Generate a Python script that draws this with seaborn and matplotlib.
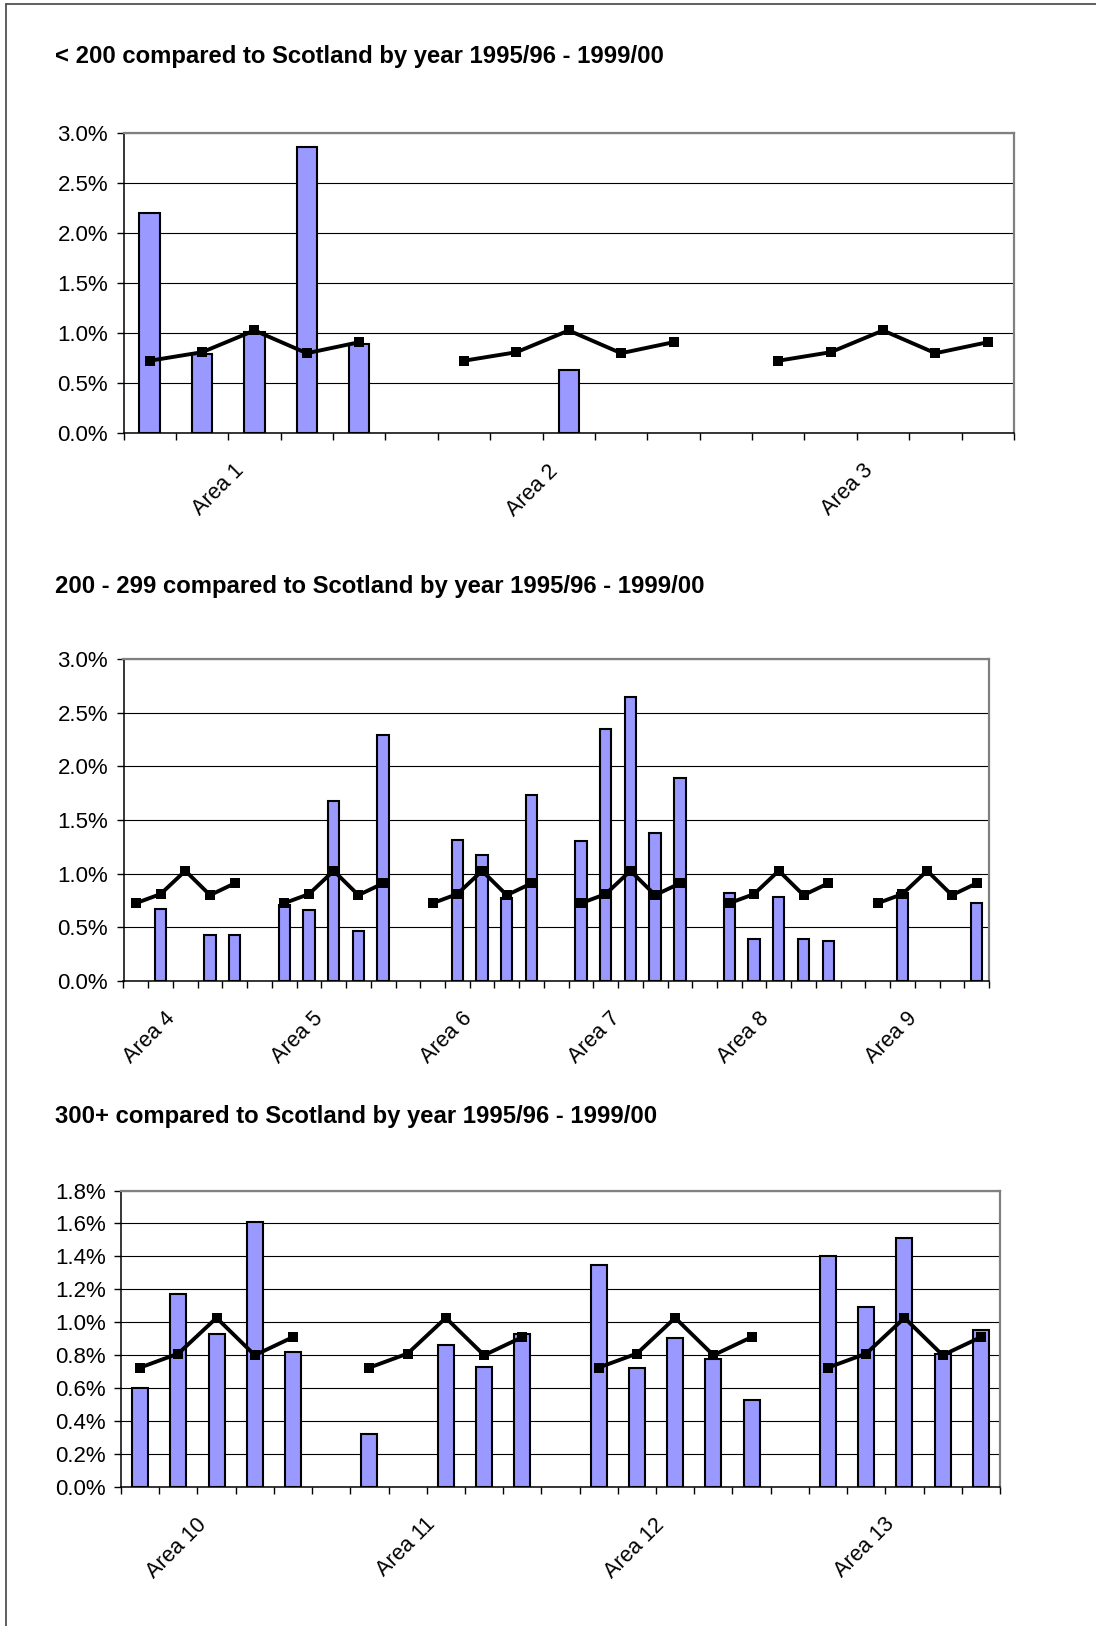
import numpy as np
import pandas as pd
import matplotlib
matplotlib.use("Agg")
import matplotlib.pyplot as plt
import matplotlib.transforms as mtransforms
from matplotlib.lines import Line2D
from matplotlib.ticker import FuncFormatter, FixedLocator, MultipleLocator
import seaborn as sns

sns.set_theme(style="white")
plt.rcParams["font.family"] = ["Liberation Sans", "DejaVu Sans"]

# ---- data (rates in %) ----
YEARS = ["1995/96", "1996/97", "1997/98", "1998/99", "1999/00"]
SCOTLAND = [0.725, 0.81, 1.027, 0.80, 0.91]

# band: < 200
LOW_AREAS = ["Area 1", "Area 2", "Area 3"]
AREA_1 = [2.20, 0.79, 1.01, 2.86, 0.89]
AREA_2 = [None, None, 0.63, None, None]
AREA_3 = [None, None, None, None, None]

# band: 200 - 299
MID_AREAS = ["Area 4", "Area 5", "Area 6", "Area 7", "Area 8", "Area 9"]
AREA_4 = [None, 0.67, None, 0.43, 0.43]
AREA_5 = [0.71, 0.66, 1.68, 0.47, 2.29]
AREA_6 = [None, 1.31, 1.17, 0.77, 1.73]
AREA_7 = [1.30, 2.35, 2.65, 1.38, 1.89]
AREA_8 = [0.82, 0.39, 0.78, 0.39, 0.37]
AREA_9 = [None, 0.82, None, None, 0.73]

# band: 300+
HIGH_AREAS = ["Area 10", "Area 11", "Area 12", "Area 13"]
AREA_10 = [0.60, 1.17, 0.93, 1.61, 0.82]
AREA_11 = [0.32, None, 0.86, 0.73, 0.93]
AREA_12 = [1.35, 0.72, 0.905, 0.78, 0.53]
AREA_13 = [1.40, 1.09, 1.51, 0.81, 0.955]

TITLES = [
    "< 200 compared to Scotland by year 1995/96 - 1999/00",
    "200 - 299 compared to Scotland by year 1995/96 - 1999/00",
    "300+ compared to Scotland by year 1995/96 - 1999/00",
]

BAR_COLOR = "#9999FF"
W, H = 1096, 1626
DPI = 100


def build_frames(area_names, area_values):
    bars, line = [], []
    for k, (name, vals) in enumerate(zip(area_names, area_values)):
        for j, year in enumerate(YEARS):
            slot = k * 6 + j
            if vals[j] is not None:
                bars.append({"slot": float(slot), "rate": vals[j], "area": name, "year": year})
            line.append({"slot": float(slot), "rate": SCOTLAND[j], "area": name, "year": year})
    return pd.DataFrame(bars), pd.DataFrame(line)


panels = [
    dict(title=TITLES[0], areas=LOW_AREAS, values=[AREA_1, AREA_2, AREA_3],
         ymax=3.0, ystep=0.5, box=(123.5, 1014, 132.7, 433.4), bw=0.39,
         title_y=57),
    dict(title=TITLES[1], areas=MID_AREAS,
         values=[AREA_4, AREA_5, AREA_6, AREA_7, AREA_8, AREA_9],
         ymax=3.0, ystep=0.5, box=(123.5, 989, 659, 981), bw=0.46,
         title_y=586),
    dict(title=TITLES[2], areas=HIGH_AREAS,
         values=[AREA_10, AREA_11, AREA_12, AREA_13],
         ymax=1.8, ystep=0.2, box=(121, 1000, 1190.5, 1487), bw=0.42,
         title_y=1116),
]

fig = plt.figure(figsize=(W / DPI, H / DPI), dpi=DPI, facecolor="white")

# outer frame (left and top edges)
fig.add_artist(Line2D([6 / W, 6 / W], [0, 1 - 4 / H], transform=fig.transFigure,
                      color="#444444", linewidth=1.2))
fig.add_artist(Line2D([6 / W, 1], [1 - 4 / H, 1 - 4 / H], transform=fig.transFigure,
                      color="#444444", linewidth=1.2))

for p in panels:
    x0, x1, ytop, ybot = p["box"]
    ax = fig.add_axes([x0 / W, 1 - ybot / H, (x1 - x0) / W, (ybot - ytop) / H])
    n_slots = len(p["areas"]) * 6 - 1
    bars, line = build_frames(p["areas"], p["values"])

    sns.barplot(data=bars, x="slot", y="rate", native_scale=True, width=p["bw"],
                color=BAR_COLOR, saturation=1, edgecolor="black", linewidth=1.5,
                errorbar=None, ax=ax, zorder=2)
    sns.lineplot(data=line, x="slot", y="rate", units="area", estimator=None,
                 color="black", linewidth=2.8, marker="s", markersize=7.5,
                 markeredgewidth=0, ax=ax, legend=False, zorder=3)

    ax.set_xlim(-0.5, n_slots - 0.5)
    ax.set_ylim(0, p["ymax"])
    ax.set_xlabel("")
    ax.set_ylabel("")

    ax.xaxis.set_major_locator(FixedLocator(np.arange(-0.5, n_slots, 1.0)))
    ax.xaxis.set_major_formatter(FuncFormatter(lambda v, pos: ""))
    ax.yaxis.set_major_locator(MultipleLocator(p["ystep"]))
    ax.yaxis.set_major_formatter(FuncFormatter(lambda v, pos: f"{v:.1f}%"))
    ax.tick_params(axis="x", which="major", direction="out", length=5, width=1,
                   color="black", bottom=True)
    ax.tick_params(axis="y", which="major", direction="out", length=5, width=1,
                   color="black", left=True, labelsize=16, pad=6, labelcolor="black")

    ax.set_axisbelow(True)
    ax.yaxis.grid(True, color="black", linewidth=0.8)
    ax.xaxis.grid(False)
    for side in ("left", "bottom"):
        ax.spines[side].set_color("black")
        ax.spines[side].set_linewidth(1.1)
    for side in ("top", "right"):
        ax.spines[side].set_color("#808080")
        ax.spines[side].set_linewidth(1.6)

    # area names under the middle year of each group
    offset = mtransforms.ScaledTranslation(-6 / DPI, -27 / DPI, fig.dpi_scale_trans)
    for k, name in enumerate(p["areas"]):
        ax.text(k * 6 + 2, 0, name, transform=ax.get_xaxis_transform() + offset,
                rotation=45, ha="right", va="top", fontsize=15.5, color="black")

    fig.text(55 / W, 1 - p["title_y"] / H, p["title"], ha="left", va="center",
             fontsize=17.2, fontweight="bold", color="black")

fig.savefig("out.png", dpi=DPI, facecolor="white")
